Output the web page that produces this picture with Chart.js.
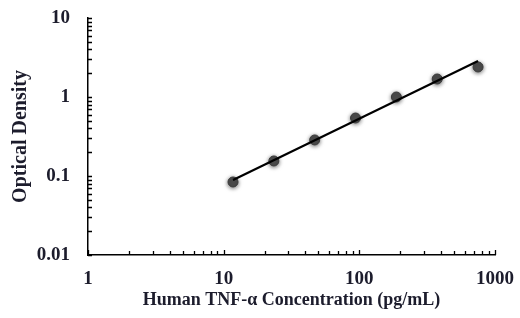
<!DOCTYPE html>
<html>
<head>
<meta charset="utf-8">
<script src="https://cdn.jsdelivr.net/npm/chart.js@4.4.1/dist/chart.umd.min.js"></script>
<style>
  html, body { margin: 0; padding: 0; background: #fff; }
  #wrap { width: 520px; height: 318px; position: relative; }
</style>
</head>
<body>
<div id="wrap"><canvas id="chart"></canvas></div>
<script>
// standard curve data
const concentrations = [11.72, 23.44, 46.88, 93.75, 187.5, 375, 750];
const odValues = [0.084, 0.155, 0.286, 0.542, 1.0, 1.69, 2.40];

// fitted line end points
const fitX = [11.72, 750];
const fitY = [0.089, 2.86];

const xTicks = [1, 10, 100, 1000];
const yTicks = [0.01, 0.1, 1, 10];

const textColor = '#1c1c2c';
const serif = '"Liberation Serif", "Times New Roman", serif';

// minor/major tick marks drawn inside the plot, like the original
const innerTicks = {
  id: 'innerTicks',
  afterDraw(chart) {
    const { ctx, scales: { x, y } } = chart;
    ctx.save();
    ctx.strokeStyle = '#000';
    ctx.lineWidth = 1.3;
    ctx.beginPath();
    for (let d = 0; d < 3; d++) {
      for (let m = 1; m <= 10; m++) {
        const v = m * Math.pow(10, d);
        if (v > 1000) continue;
        const px = Math.round(x.getPixelForValue(v)) + 0.5;
        const len = (m === 1 || m === 10) ? 5 : 4;
        ctx.moveTo(px, x.top);
        ctx.lineTo(px, x.top - len);
      }
    }
    for (let d = -2; d < 1; d++) {
      for (let m = 1; m <= 10; m++) {
        const v = m * Math.pow(10, d);
        const py = Math.round(y.getPixelForValue(v)) + 0.5;
        ctx.moveTo(y.right, py);
        ctx.lineTo(y.right + 4, py);
      }
    }
    ctx.stroke();
    ctx.restore();
  }
};

// soft shadow under the points
const pointShadow = {
  id: 'pointShadow',
  beforeDatasetDraw(chart, args) {
    if (args.index !== 1) return;
    chart.ctx.save();
    chart.ctx.shadowColor = 'rgba(0,0,0,0.55)';
    chart.ctx.shadowBlur = 4;
    chart.ctx.shadowOffsetY = 1;
  },
  afterDatasetDraw(chart, args) {
    if (args.index !== 1) return;
    chart.ctx.restore();
  }
};

new Chart(document.getElementById('chart'), {
  type: 'scatter',
  data: {
    datasets: [
      {
        label: 'fit',
        data: fitX.map((v, i) => ({ x: v, y: fitY[i] })),
        showLine: true,
        borderColor: '#000',
        borderWidth: 2.2,
        pointRadius: 0
      },
      {
        label: 'OD',
        data: concentrations.map((v, i) => ({ x: v, y: odValues[i] })),
        backgroundColor: '#4e4e4e',
        borderColor: '#3a3a3a',
        borderWidth: 1,
        pointRadius: 5
      }
    ]
  },
  options: {
    responsive: true,
    maintainAspectRatio: false,
    animation: false,
    layout: { padding: { top: 18, right: 25, left: 0, bottom: 0 } },
    plugins: { legend: { display: false }, tooltip: { enabled: false } },
    scales: {
      x: {
        type: 'logarithmic',
        min: 1,
        max: 1000,
        afterBuildTicks: s => { s.ticks = xTicks.map(v => ({ value: v })); },
        afterFit: s => { s.height = 63; s.paddingLeft = 0; s.paddingRight = 0; },
        grid: { display: false, drawTicks: false },
        border: { display: true, color: '#000', width: 1.5 },
        ticks: {
          color: textColor,
          padding: 13,
          maxRotation: 0,
          font: { family: serif, size: 19, weight: 'bold' },
          callback: v => String(v)
        },
        title: {
          display: true,
          text: 'Human TNF-α Concentration (pg/mL)',
          color: textColor,
          padding: { top: 0, bottom: 7 },
          font: { family: serif, size: 18, weight: 'bold' }
        }
      },
      y: {
        type: 'logarithmic',
        min: 0.01,
        max: 10,
        afterBuildTicks: s => { s.ticks = yTicks.map(v => ({ value: v })); },
        afterFit: s => { s.width = 88; s.paddingTop = 0; s.paddingBottom = 0; },
        grid: { display: false, drawTicks: false },
        border: { display: true, color: '#000', width: 1.5 },
        ticks: {
          color: textColor,
          padding: 18,
          font: { family: serif, size: 19, weight: 'bold' },
          callback: v => String(v)
        },
        title: {
          display: true,
          text: 'Optical Density',
          color: textColor,
          padding: { top: 9, bottom: 0 },
          font: { family: serif, size: 20, weight: 'bold' }
        }
      }
    }
  },
  plugins: [innerTicks, pointShadow]
});
</script>
</body>
</html>
